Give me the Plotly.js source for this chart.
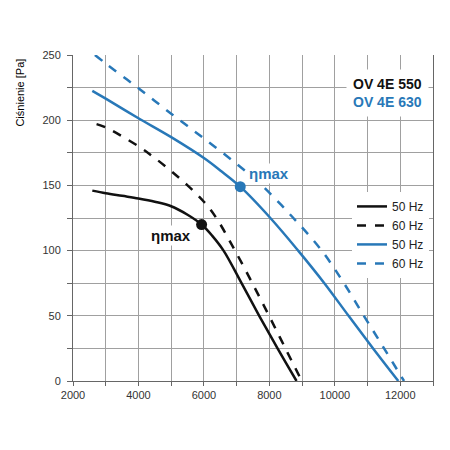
<!DOCTYPE html>
<html>
<head>
<meta charset="utf-8">
<script src="https://cdn.plot.ly/plotly-3.0.1.min.js"></script>
<style>html,body{margin:0;padding:0;background:#fff;}#chart{width:450px;height:450px;}</style>
</head>
<body>
<div id="chart"></div>
<script>
// Data (flow [m3/h] vs pressure [Pa])
const s550_50_x = [2590, 3000, 3500, 4000, 4500, 5000, 5500, 5930, 6250, 6600, 7150, 7690, 8250, 8830];
const s550_50_y = [146, 144, 142, 140, 137.5, 134, 127.5, 120, 111.5, 100, 75, 50, 25, 0];
const s550_60_x = [2720, 3000, 4000, 4500, 5000, 5500, 6000, 6380, 6950, 7480, 7990, 8490, 8990];
const s550_60_y = [197, 194.5, 180, 171, 161, 150, 137.5, 125, 100, 75, 50, 25, 0];
const s630_50_x = [2590, 3000, 4000, 5000, 6000, 6500, 7110, 8030, 8880, 9680, 10420, 11170, 11940];
const s630_50_y = [222.5, 216.5, 201.5, 187, 171, 161.5, 149, 125, 100, 75, 50, 25, 0];
const s630_60_x = [2670, 3000, 4000, 5000, 6000, 7000, 7750, 8733, 9600, 10278, 10888, 11505, 12115];
const s630_60_y = [250, 243.5, 224.5, 205, 186, 166.5, 150.5, 125, 100, 75, 50, 25, 0];
const etaX = [5930, 7110];
const etaY = [120, 149];
const legendNames = ["50 Hz", "60 Hz", "50 Hz", "60 Hz"];
const modelNames = ["OV 4E 550", "OV 4E 630"];
const xTickVals = [2000, 4000, 6000, 8000, 10000, 12000];
const xTickText = ["2000", "4000", "6000", "8000", "10000", "12000"];
const yTickVals = [0, 50, 100, 150, 200, 250];

const BLACK = "#111111";
const BLUE = "#2878b8";
const FONT = "Liberation Sans, Arial, sans-serif";

const lineStyle = (color, dash) => ({color: color, width: 2.5, dash: dash, shape: "spline", smoothing: 1});

const traces = [
  {x: s550_50_x, y: s550_50_y, name: legendNames[0], mode: "lines", line: lineStyle(BLACK, "solid")},
  {x: s550_60_x, y: s550_60_y, name: legendNames[1], mode: "lines", line: lineStyle(BLACK, "dash")},
  {x: s630_50_x, y: s630_50_y, name: legendNames[2], mode: "lines", line: lineStyle(BLUE, "solid")},
  {x: s630_60_x, y: s630_60_y, name: legendNames[3], mode: "lines", line: lineStyle(BLUE, "dash")},
  {x: etaX, y: etaY, mode: "markers", showlegend: false, marker: {color: [BLACK, BLUE], size: 11}}
];

const layout = {
  width: 450, height: 450,
  margin: {l: 73, r: 17, t: 55, b: 69},
  paper_bgcolor: "#fff", plot_bgcolor: "#fff",
  font: {family: FONT, size: 11, color: "#333"},
  showlegend: true,
  legend: {x: 0.775, y: 0.58, xanchor: "left", yanchor: "top", bgcolor: "#fff",
           font: {family: FONT, size: 12, color: "#222"}, tracegroupgap: 0},
  xaxis: {range: [2000, 13000], tickvals: xTickVals, ticktext: xTickText, ticks: "outside", ticklen: 4, tickcolor: "#666",
          showline: true, linecolor: "#666", linewidth: 1, showgrid: true, gridcolor: "#a0a0a0", gridwidth: 1,
          minor: {dtick: 1000, showgrid: true, gridcolor: "#a0a0a0", ticks: "outside", ticklen: 4, tickcolor: "#666"},
          zeroline: false, tickfont: {size: 11, color: "#333"}, fixedrange: true},
  yaxis: {range: [0, 250], tickvals: yTickVals, ticks: "outside", ticklen: 5, tickcolor: "#666", ticklabelstandoff: 4,
          showline: true, mirror: true, linecolor: "#666", linewidth: 1, showgrid: true, gridcolor: "#a0a0a0", gridwidth: 1,
          minor: {dtick: 25, showgrid: true, gridcolor: "#a0a0a0", ticks: "outside", ticklen: 5, tickcolor: "#666"},
          zeroline: false, tickfont: {size: 11, color: "#333"}, fixedrange: true},
  annotations: [
    {xref: "paper", yref: "paper", x: -0.147, xanchor: "center", y: 0.885, yanchor: "middle",
     text: "Ciśnienie [Pa]", textangle: -90, showarrow: false,
     font: {family: FONT, size: 11, color: "#000"}},
    {xref: "paper", yref: "paper", x: 0.99, y: 0.883, xanchor: "right", yanchor: "middle", align: "right",
     text: "<b>" + modelNames[0] + "</b><br><span style='color:" + BLUE + "'><b>" + modelNames[1] + "</b></span>",
     showarrow: false, bgcolor: "#fff", borderpad: 6, font: {family: FONT, size: 14, color: BLACK}},
    {x: etaX[0], y: etaY[0], xref: "x", yref: "y", text: "<b>ηmax</b>", showarrow: false, xanchor: "right", yanchor: "top",
     xshift: -9, yshift: 0, bgcolor: "#fff", borderpad: 1, font: {family: FONT, size: 15, color: BLACK}},
    {x: etaX[1], y: etaY[1], xref: "x", yref: "y", text: "<b>ηmax</b>", showarrow: false, xanchor: "left", yanchor: "bottom",
     xshift: 7, yshift: 3, bgcolor: "#fff", borderpad: 1, font: {family: FONT, size: 15, color: BLUE}}
  ]
};

Plotly.newPlot("chart", traces, layout, {staticPlot: true, displayModeBar: false});
</script>
</body>
</html>
